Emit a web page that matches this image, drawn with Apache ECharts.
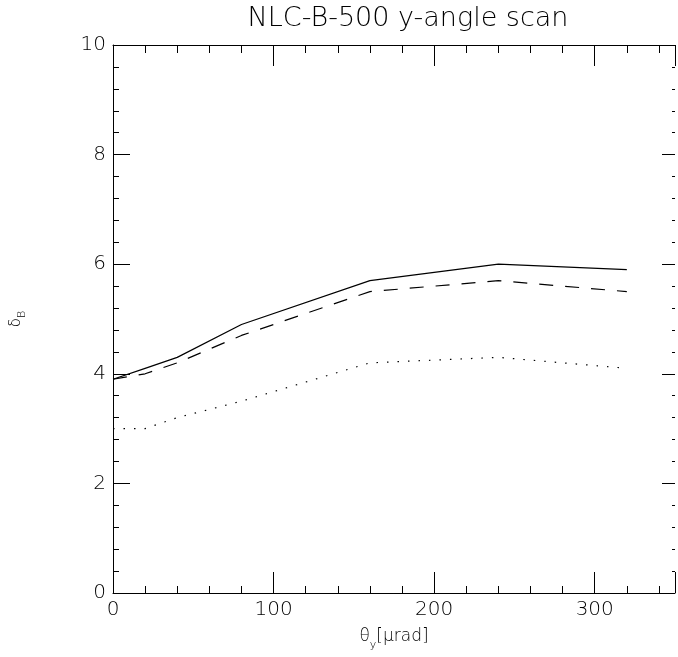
<!DOCTYPE html>
<html>
<head>
<meta charset="utf-8">
<script src="https://cdn.jsdelivr.net/npm/echarts@6/dist/echarts.min.js"></script>
<style>html,body{margin:0;padding:0;background:#fff;}#c{width:678px;height:657px;}</style>
</head>
<body>
<div id="c"></div>
<script>
const xValues = [0, 20, 40, 80, 160, 240, 320];
const solidValues = [3.9, 4.1, 4.3, 4.9, 5.7, 6.0, 5.9];
const dashedValues = [3.9, 4.0, 4.2, 4.7, 5.5, 5.7, 5.5];
const dottedValues = [3.0, 3.0, 3.2, 3.5, 4.2, 4.3, 4.1];
const titleText = 'NLC-B-500 y-angle scan';

const FONT = '"DejaVu Sans ExtraLight", "DejaVu Sans", sans-serif';
const pairs = v => xValues.map((x, i) => [x, v[i]]);

const chart = echarts.init(document.getElementById('c'), null, {renderer: 'canvas'});
const axisLine = {show: true, onZero: false, lineStyle: {color: '#000', width: 1}};
chart.setOption({
  backgroundColor: '#fff',
  animation: false,
  title: {
    text: titleText, left: 403, textAlign: 'center', top: 0,
    textStyle: {fontFamily: FONT, fontSize: 27, fontWeight: 200, color: '#000'}
  },
  grid: {left: 113, right: -1, top: 45, bottom: 64, containLabel: false},
  xAxis: [
    {
      type: 'value', position: 'bottom', min: 0, max: 350, interval: 100,
      axisLine: axisLine,
      axisTick: {show: true, inside: true, length: 21, lineStyle: {color: '#000'}},
      minorTick: {show: true, splitNumber: 5, length: 7, lineStyle: {color: '#000'}},
      axisLabel: {show: true, margin: 7, fontFamily: FONT, fontWeight: 200, fontSize: 20, color: '#000',
        formatter: v => (v === 350 ? '' : String(v))},
      splitLine: {show: false},
      name: '{a|θ}{b|y}{a|[μrad]}', nameLocation: 'middle', nameGap: 30,
      nameTextStyle: {
        rich: {
          a: {fontFamily: FONT, fontWeight: 200, fontSize: 17, color: '#000', lineHeight: 20},
          b: {fontFamily: FONT, fontWeight: 200, fontSize: 11, color: '#000', lineHeight: 28, verticalAlign: 'bottom'}
        }
      }
    },
    {
      type: 'value', position: 'top', min: 0, max: 350, interval: 100,
      axisLine: axisLine,
      axisTick: {show: true, inside: true, length: 21, lineStyle: {color: '#000'}},
      minorTick: {show: true, splitNumber: 5, length: 8, lineStyle: {color: '#000'}},
      axisLabel: {show: false}, splitLine: {show: false}
    }
  ],
  yAxis: [
    {
      type: 'value', position: 'left', min: 0, max: 10, interval: 2,
      axisLine: axisLine,
      axisTick: {show: true, inside: true, length: 17, lineStyle: {color: '#000'}},
      minorTick: {show: true, splitNumber: 5, length: 6, lineStyle: {color: '#000'}},
      axisLabel: {show: true, margin: 7, fontFamily: FONT, fontWeight: 200, fontSize: 20, color: '#000'},
      splitLine: {show: false},
      name: '{a|δ}{b|B}', nameLocation: 'middle', nameGap: 85, nameRotate: 90,
      nameTextStyle: {
        rich: {
          a: {fontFamily: FONT, fontWeight: 200, fontSize: 15, color: '#000', lineHeight: 16},
          b: {fontFamily: FONT, fontWeight: 200, fontSize: 11, color: '#000', lineHeight: 24, verticalAlign: 'bottom'}
        }
      }
    },
    {
      type: 'value', position: 'right', min: 0, max: 10, interval: 2,
      axisLine: {show: false, onZero: false},
      axisTick: {show: true, inside: true, length: 13, lineStyle: {color: '#000'}},
      minorTick: {show: true, splitNumber: 5, length: 3, lineStyle: {color: '#000'}},
      axisLabel: {show: false}, splitLine: {show: false}
    }
  ],
  series: [
    {type: 'line', data: pairs(solidValues), showSymbol: false, symbol: 'none',
      lineStyle: {color: '#000', width: 1.2, type: 'solid'}},
    {type: 'line', data: pairs(dashedValues), showSymbol: false, symbol: 'none',
      lineStyle: {color: '#000', width: 1.2, type: [14, 12]}},
    {type: 'line', data: pairs(dottedValues), showSymbol: false, symbol: 'none',
      lineStyle: {color: '#000', width: 1.2, type: [1.5, 9]}}
  ]
});
</script>
</body>
</html>
